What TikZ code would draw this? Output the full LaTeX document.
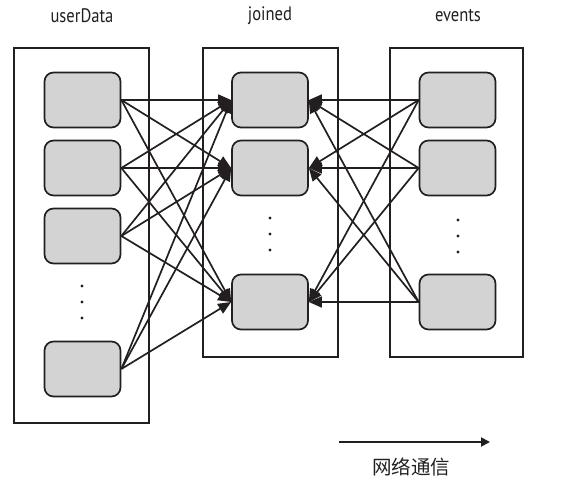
\documentclass[tikz,border=0pt]{standalone}
\usepackage{fontspec}
\newfontfamily\lblfont[FakeStretch=0.85]{PT Sans}
\newfontfamily\cjk{Noto Sans CJK SC}
\usetikzlibrary{arrows.meta}
\definecolor{ink}{HTML}{231F20}
\definecolor{cellgray}{HTML}{D3D3D3}
\begin{document}
\begin{tikzpicture}[x=1pt,y=-1pt,
  outerbox/.style={draw=ink, line width=2pt, inner sep=0pt, minimum width=#1},
  cell/.style={draw=ink, fill=cellgray, line width=1.7pt, rounded corners=9pt,
    minimum width=76pt, minimum height=55pt, inner sep=0pt},
  link/.style={draw=ink, line width=1.7pt, -{Triangle[length=13pt,width=11pt]}},
  dot/.style={circle, fill=ink, inner sep=0pt, minimum size=3.4pt},
  title/.style={font=\lblfont\fontsize{19.5}{22}\selectfont, text=ink}
]
\useasboundingbox (0,0) rectangle (571,483);

% titles
\node[title] (tU) at (82,16) {userData};
\node[title] (tJ) at (270,16) {joined};
\node[title] (tE) at (458,16) {events};

% outer boxes
\node[outerbox=135pt, minimum height=375pt] (U) at (81.5,235.5) {};
\node[outerbox=135pt, minimum height=309pt] (J) at (270.5,202.5) {};
\node[outerbox=133pt, minimum height=309pt] (E) at (456.5,202.5) {};

% cells userData
\node[cell] (u1) at (82.5,100) {};
\node[cell] (u2) at (82.5,168) {};
\node[cell] (u3) at (82.5,236) {};
\node[cell] (u4) at (82.5,369) {};
% cells joined
\node[cell] (j1) at (270,100) {};
\node[cell] (j2) at (270,168) {};
\node[cell] (j3) at (270,302) {};
% cells events
\node[cell] (e1) at (457.5,100) {};
\node[cell] (e2) at (457.5,168) {};
\node[cell] (e3) at (457.5,302) {};

% dots
\node[dot] (du1) at (82,286) {};
\node[dot] (du2) at (82,302) {};
\node[dot] (du3) at (82,318) {};
\node[dot] (dj1) at (270,218) {};
\node[dot] (dj2) at (270,234) {};
\node[dot] (dj3) at (270,250) {};
\node[dot] (de1) at (458,220) {};
\node[dot] (de2) at (458,236) {};
\node[dot] (de3) at (458,252) {};

% links userData -> joined
\foreach \s in {u1,u2,u3,u4}{
  \foreach \t in {j1,j2,j3}{
    \draw[link] (\s.east) -- (\t.west);
  }
}
% links events -> joined
\foreach \s in {e1,e2,e3}{
  \foreach \t in {j1,j2,j3}{
    \draw[link] (\s.west) -- (\t.east);
  }
}

% network arrow
\coordinate (na) at (339,442);
\coordinate (nb) at (490,442);
\draw[draw=ink, line width=1.8pt, -{Triangle[length=9pt,width=9pt]}] (na) -- (nb);
\node[font=\cjk\fontsize{19.5}{22}\selectfont, text=ink] (nl) at (411,467) {网络通信};
\end{tikzpicture}
\end{document}
